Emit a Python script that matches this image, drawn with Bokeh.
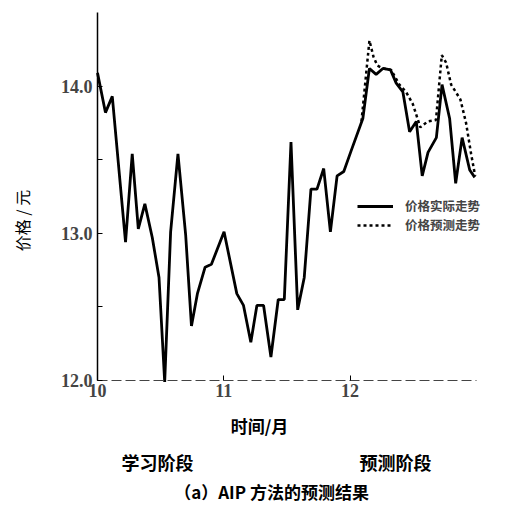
from bokeh.plotting import figure
from bokeh.models import Range1d, FixedTicker, Label, Legend, LegendItem
from bokeh.embed import file_html
from bokeh.resources import INLINE
import math

# month (fractional) and price for the actual series
actual_x = [10.000, 10.063, 10.117, 10.222, 10.275, 10.323, 10.375, 10.434, 10.487, 10.532,
            10.579, 10.637, 10.698, 10.744, 10.791, 10.852, 10.902, 11.002, 11.103, 11.156,
            11.214, 11.262, 11.315, 11.373, 11.431, 11.479, 11.532, 11.585, 11.637, 11.690,
            11.738, 11.791, 11.844, 11.897, 11.950, 12.008, 12.101, 12.153, 12.206, 12.260,
            12.320, 12.365, 12.418, 12.471, 12.524, 12.571, 12.617, 12.683, 12.728, 12.788,
            12.836, 12.887, 12.947, 12.987]
actual_y = [14.09, 13.82, 13.93, 12.94, 13.54, 13.03, 13.20, 12.97, 12.70, 11.99,
            13.01, 13.54, 12.99, 12.37, 12.59, 12.77, 12.79, 13.01, 12.59, 12.51,
            12.26, 12.51, 12.51, 12.16, 12.55, 12.55, 13.62, 12.48, 12.70, 13.30,
            13.30, 13.44, 13.01, 13.39, 13.42, 13.56, 13.78, 14.12, 14.08, 14.12,
            14.11, 14.02, 13.96, 13.69, 13.76, 13.39, 13.55, 13.65, 14.01, 13.78,
            13.34, 13.65, 13.43, 13.38]

# predicted series
pred_x = [12.090, 12.153, 12.185, 12.215, 12.260, 12.325, 12.390, 12.443, 12.496, 12.556,
          12.614, 12.680, 12.726, 12.760, 12.800, 12.873, 12.918, 12.958, 12.990]
pred_y = [13.76, 14.31, 14.20, 14.14, 14.12, 14.11, 14.01, 13.96, 13.88, 13.72,
          13.76, 13.77, 14.21, 14.16, 14.01, 13.91, 13.75, 13.54, 13.39]

y_ticks = [12.0, 13.0, 14.0]
y_minor = [12.5, 13.5]
x_ticks = [10, 11, 12]

CJK = "Noto Sans CJK SC"
SERIF = "Liberation Serif"

W, H = 524, 506
X0, PX_PER_MONTH = 97, 126.3
Y0, PX_PER_UNIT = 380, 147.2

p = figure(width=W, height=H, output_backend="svg", toolbar_location=None,
           x_range=Range1d(10 - X0 / PX_PER_MONTH, 10 + (W - X0) / PX_PER_MONTH),
           y_range=Range1d(12 - (H - Y0) / PX_PER_UNIT, 12 + Y0 / PX_PER_UNIT),
           min_border=0)
p.outline_line_color = None
p.xgrid.visible = False
p.ygrid.visible = False
p.background_fill_color = "white"

r1 = p.line(actual_x, actual_y, line_color="black", line_width=2.8)
r2 = p.line(pred_x, pred_y, line_color="black", line_width=2.5, line_dash="3 3")

p.yaxis.fixed_location = 10
p.yaxis.bounds = (12.0, 14.5)
p.yaxis.ticker = FixedTicker(ticks=y_ticks, minor_ticks=y_minor)
p.yaxis.major_label_overrides = {t: f"{t:.1f}" for t in y_ticks}
p.yaxis.major_tick_in = 5
p.yaxis.major_tick_out = 0
p.yaxis.minor_tick_in = 5
p.yaxis.minor_tick_out = 0
p.yaxis.axis_line_width = 1.5
p.yaxis.major_label_text_font = SERIF
p.yaxis.major_label_text_font_style = "bold"
p.yaxis.major_label_text_font_size = "18px"
p.yaxis.major_label_standoff = 5

p.xaxis.fixed_location = 12.0
p.xaxis.bounds = (10, 13.0)
p.xaxis.ticker = FixedTicker(ticks=x_ticks, minor_ticks=[])
p.xaxis.major_tick_in = 5
p.xaxis.major_tick_out = 0
p.xaxis.axis_line_color = "#444444"
p.xaxis.axis_line_dash = "10 4"
p.xaxis.axis_line_width = 1
p.xaxis.major_tick_line_color = "black"
p.xaxis.major_label_text_font = SERIF
p.xaxis.major_label_text_font_style = "bold"
p.xaxis.major_label_text_font_size = "18px"
p.xaxis.major_label_standoff = 3

legend = Legend(items=[LegendItem(label="价格实际走势", renderers=[r1]),
                       LegendItem(label="价格预测走势", renderers=[r2])],
                location=(357, 272), glyph_width=36, glyph_height=12, label_height=12,
                label_standoff=12, spacing=-3, padding=0, margin=0,
                border_line_color=None, background_fill_alpha=0,
                label_text_font=CJK, label_text_font_style="bold",
                label_text_font_size="12.5px")
p.add_layout(legend)

def add_text(x, y, txt, size, bold=True, font=CJK, angle=0):
    p.add_layout(Label(x=x, y=y, text=txt, text_font=font, text_font_size=size,
                       text_font_style="bold" if bold else "normal", text_align="center",
                       text_baseline="middle", angle=angle, text_color="black"))

add_text(9.406, 13.087, "价格 / 元", "16px", bold=False, angle=math.pi / 2)
add_text(11.283, 11.694, "时间/月", "17px")
add_text(10.475, 11.443, "学习阶段", "18px")
add_text(12.36, 11.443, "预测阶段", "18px")
add_text(11.378, 11.245, "（a）AIP 方法的预测结果", "17px")

open("out.html", "w").write(file_html(p, INLINE))
